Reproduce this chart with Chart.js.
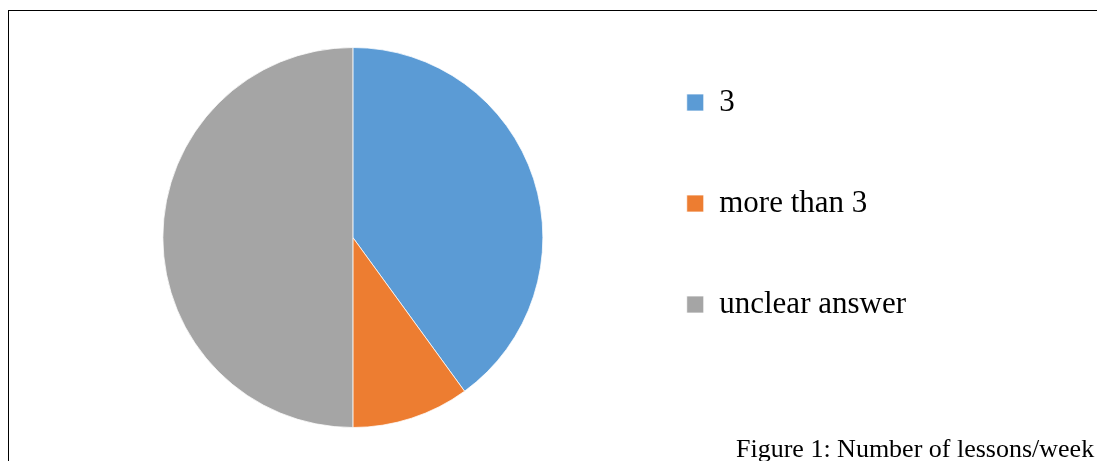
<!DOCTYPE html>
<html>
<head>
<meta charset="utf-8">
<script src="https://cdn.jsdelivr.net/npm/chart.js@4/dist/chart.umd.min.js"></script>
<style>
  html, body { margin: 0; padding: 0; background: #fff; overflow: hidden; }
  #frame {
    position: absolute; left: 8px; top: 10px; width: 1200px; height: 600px;
    border: 1.5px solid #000; box-sizing: border-box;
  }
  #wrap { position: absolute; left: 0; top: 0; width: 1097px; height: 461px; }
  #caption {
    position: absolute; left: 736px; top: 434px; white-space: nowrap;
    font-family: "Liberation Serif", "Times New Roman", serif; font-size: 26px; color: #000;
  }
</style>
</head>
<body>
<div id="frame"></div>
<div id="wrap"><canvas id="lessons"></canvas></div>
<div id="caption">Figure 1: Number of lessons/week</div>
<script>
// Données (en %)
const categories = ["3", "more than 3", "unclear answer"];
const values = [40, 10, 50];
const colors = ["#5B9BD5", "#ED7D31", "#A5A5A5"];

const ctx = document.getElementById("lessons").getContext("2d");
const pieChart = new Chart(ctx, {
  type: "pie",
  data: {
    labels: categories,
    datasets: [
      {
        data: values,
        backgroundColor: colors,
        borderColor: "#ffffff",
        borderWidth: 0.75,
        radius: 190,
      },
    ],
  },
  options: {
    responsive: true,
    maintainAspectRatio: false,
    animation: false,
    layout: {
      padding: { left: 89, right: 181, top: 17, bottom: 3 },
    },
    plugins: {
      tooltip: { enabled: false },
      legend: {
        position: "right",
        align: "start",
        labels: {
          color: "#000",
          boxWidth: 17,
          boxHeight: 17,
          padding: 70,
          font: { family: "'Liberation Serif', 'Times New Roman', serif", size: 31 },
        },
      },
    },
  },
});
</script>
</body>
</html>
